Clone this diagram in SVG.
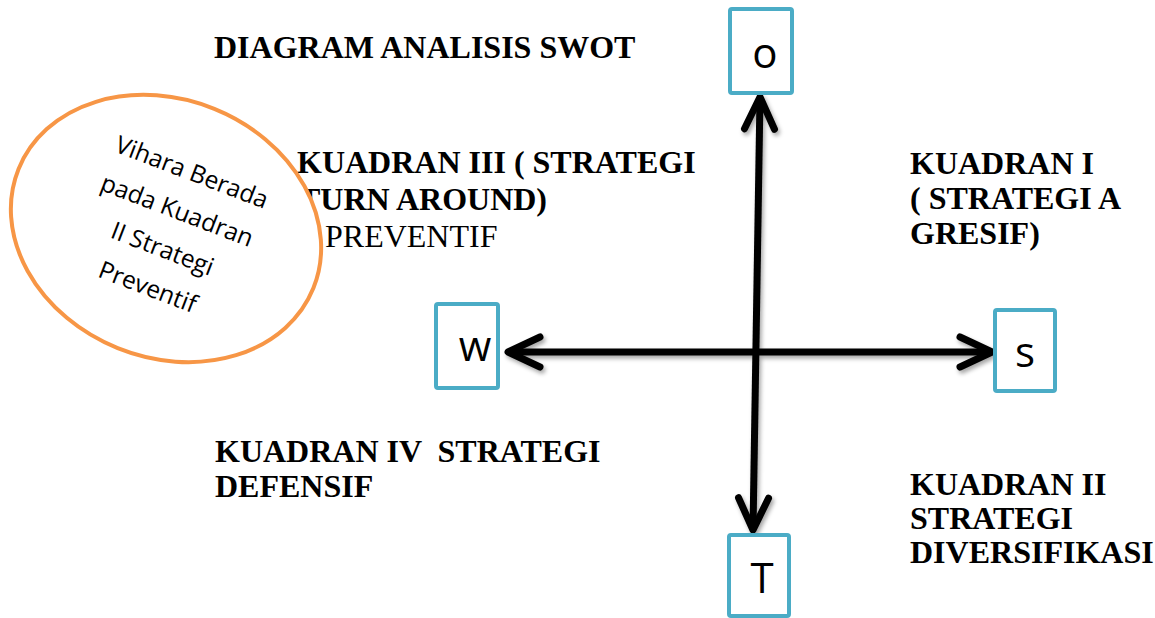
<svg xmlns="http://www.w3.org/2000/svg" width="1155" height="618" viewBox="0 0 1155 618">
  <defs>
    <style>
      .box { fill: #ffffff; stroke: #4bacc6; stroke-width: 4; }
      .letter { font-family: "Open Sans", "Liberation Sans", sans-serif; font-size: 42px; fill: #000000; text-anchor: middle; }
      .hd { font-family: "Liberation Serif", "Times New Roman", serif; font-size: 32px; font-weight: bold; fill: #000000; white-space: pre; }
      .rg { font-family: "Liberation Serif", "Times New Roman", serif; font-size: 32px; font-weight: normal; fill: #000000; }
      .axis { fill: none; stroke: #000000; stroke-width: 7; stroke-linecap: butt; }
      .chev { fill: none; stroke: #000000; stroke-width: 7; stroke-linecap: round; stroke-linejoin: round; }
      .oval { fill: #ffffff; stroke: #f79646; stroke-width: 4; }
      .ovtext { font-family: "Open Sans", "Liberation Sans", sans-serif; font-size: 24.5px; fill: #000000; text-anchor: middle; }
    </style>
    <filter id="shadow" x="-10%" y="-10%" width="120%" height="120%">
      <feDropShadow dx="2" dy="3" stdDeviation="2" flood-color="#000000" flood-opacity="0.35"/>
    </filter>
    <marker id="chev" markerUnits="userSpaceOnUse" viewBox="-40 -22 48 44" refX="0" refY="0" markerWidth="48" markerHeight="44" orient="auto-start-reverse" overflow="visible">
      <path class="chev" d="M-32,-15 L0,0 L-32,15"/>
    </marker>
  </defs>

  <rect width="1155" height="618" fill="#ffffff"/>

  <g id="title">
    <text class="hd" x="214" y="58">DIAGRAM ANALISIS SWOT</text>
  </g>

  <g id="kuadran3">
    <text class="hd" x="297" y="173">KUADRAN III ( STRATEGI</text>
    <text class="hd" x="299" y="210">TURN AROUND)</text>
    <text class="rg" x="325" y="247">PREVENTIF</text>
  </g>

  <g id="kuadran1">
    <text class="hd" x="910" y="174">KUADRAN I</text>
    <text class="hd" x="910" y="209">( STRATEGI A</text>
    <text class="hd" x="910" y="244">GRESIF)</text>
  </g>

  <g id="kuadran4">
    <text class="hd" x="215" y="462">KUADRAN IV  STRATEGI</text>
    <text class="hd" x="215" y="497">DEFENSIF</text>
  </g>

  <g id="kuadran2">
    <text class="hd" x="910" y="495">KUADRAN II</text>
    <text class="hd" x="910" y="529">STRATEGI</text>
    <text class="hd" x="910" y="563">DIVERSIFIKASI</text>
  </g>

  <g id="connectors" filter="url(#shadow)">
    <path class="axis" d="M508,352 L992,352" marker-start="url(#chev)" marker-end="url(#chev)"/>
    <path class="axis" d="M760,97 L753,530" marker-start="url(#chev)" marker-end="url(#chev)"/>
  </g>

  <g id="node-o">
    <rect class="box" x="730" y="9" width="62" height="84" rx="2"/>
    <text class="letter" x="765" y="68">o</text>
  </g>

  <g id="node-w">
    <rect class="box" x="436" y="304" width="62" height="84" rx="2"/>
    <text class="letter" x="475" y="361">w</text>
  </g>

  <g id="node-s">
    <rect class="box" x="995" y="310" width="60" height="81" rx="2"/>
    <text class="letter" x="1025" y="367">s</text>
  </g>

  <g id="node-t">
    <rect class="box" x="729" y="535" width="60" height="81" rx="2"/>
    <text class="letter" x="762" y="593">T</text>
  </g>

  <g id="node-vihara">
    <ellipse class="oval" cx="166" cy="228.5" rx="159" ry="129" transform="rotate(22 166 228.5)"/>
    <g transform="translate(167 237) rotate(21)">
      <text class="ovtext" x="0" y="-61">Vihara Berada</text>
      <text class="ovtext" x="0" y="-20">pada Kuadran</text>
      <text class="ovtext" x="0" y="21">II Strategi</text>
      <text class="ovtext" x="0" y="62">Preventif</text>
    </g>
  </g>
</svg>
